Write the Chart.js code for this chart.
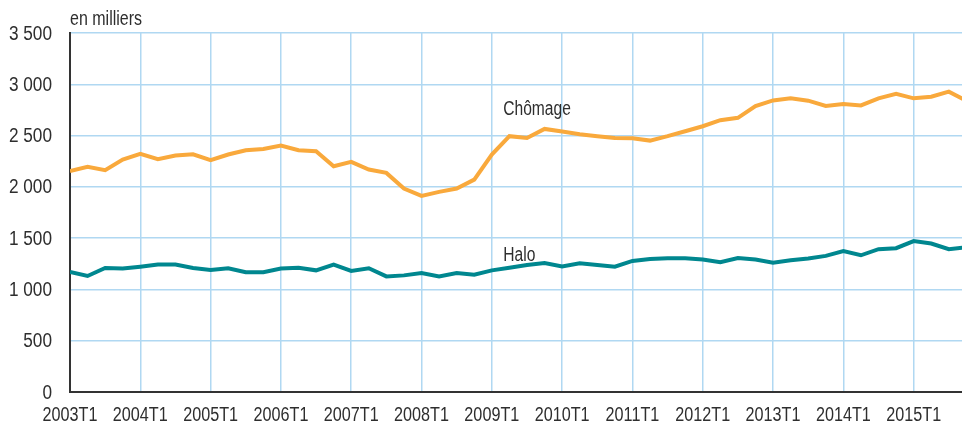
<!DOCTYPE html>
<html>
<head>
<meta charset="utf-8">
<script src="https://cdn.jsdelivr.net/npm/chart.js@4/dist/chart.umd.min.js"></script>
<style>
    html, body { margin: 0; padding: 0; background: #fff; }
    #wrap { width: 962px; height: 423px; }
</style>
</head>
<body>
<div id="wrap"><canvas id="chart" width="962" height="423"></canvas></div>
<script>
// quarterly data, 2003T1 .. 2015T4 (en milliers)
const quarters = [];
for (let y = 2003; y <= 2015; y++) {
    for (let q = 1; q <= 4; q++) quarters.push(y + 'T' + q);
}

const chomage = [
    2153, 2195, 2162, 2266, 2321, 2269, 2305, 2318,
    2260, 2315, 2357, 2370, 2403, 2357, 2347, 2201,
    2243, 2169, 2136, 1984, 1912, 1951, 1984, 2071,
    2315, 2494, 2477, 2565, 2539, 2513, 2494, 2477,
    2474, 2451, 2494, 2542, 2591, 2650, 2673, 2788,
    2843, 2863, 2840, 2788, 2807, 2794, 2863, 2908,
    2863, 2879, 2928, 2840
];

const halo = [
    1170, 1131, 1209, 1203, 1222, 1242, 1242, 1209,
    1190, 1206, 1167, 1167, 1203, 1212, 1186, 1242,
    1180, 1206, 1127, 1137, 1160, 1127, 1160, 1144,
    1186, 1212, 1239, 1258, 1225, 1255, 1239, 1222,
    1278, 1297, 1304, 1304, 1291, 1265, 1307, 1291,
    1261, 1284, 1301, 1327, 1373, 1333, 1392, 1402,
    1471, 1448, 1392, 1410
];

const yTicks = [0, 500, 1000, 1500, 2000, 2500, 3000, 3500];
const xTickIdx = [0, 4, 8, 12, 16, 20, 24, 28, 32, 36, 40, 44, 48];

const FONT = "'Liberation Sans', Arial, sans-serif";
const TEXT = '#2e2e2e';
const ORANGE = '#f9a93c';
const TEAL = '#00878f';
const GRID = '#b0d8f2';

function fmt(v) {
    if (v < 1000) return String(v);
    const th = Math.floor(v / 1000);
    const rest = String(v % 1000).padStart(3, '0');
    return th + ' ' + rest;
}

// draws condensed text (no narrow font installed)
function narrowText(ctx, str, x, y, align, squeeze) {
    ctx.save();
    ctx.translate(x, y);
    ctx.scale(squeeze, 1);
    ctx.textAlign = align;
    ctx.fillText(str, 0, 0);
    ctx.restore();
}

// tick labels, series labels, unit text
const labelsPlugin = {
    id: 'labels',
    afterDraw(chart) {
        const { ctx, scales: { x, y }, chartArea } = chart;
        ctx.save();
        ctx.fillStyle = TEXT;
        ctx.font = '20px ' + FONT;
        ctx.textBaseline = 'alphabetic';

        narrowText(ctx, 'en milliers', chartArea.left, 25, 'left', 0.8);

        // x ticks
        xTickIdx.forEach(v => {
            narrowText(ctx, quarters[v], x.getPixelForValue(v), chartArea.bottom + 29, 'center', 0.81);
        });

        // series labels
        narrowText(ctx, 'Chômage', x.getPixelForValue(24.65), y.getPixelForValue(2703), 'left', 0.78);
        narrowText(ctx, 'Halo', x.getPixelForValue(24.65), y.getPixelForValue(1280), 'left', 0.78);

        // y ticks
        ctx.textBaseline = 'middle';
        yTicks.forEach(v => {
            narrowText(ctx, fmt(v), chartArea.left - 18, y.getPixelForValue(v) + 1, 'right', 0.86);
        });
        ctx.restore();
    }
};

const ctx = document.getElementById('chart').getContext('2d');
const chart = new Chart(ctx, {
    type: 'line',
    data: {
        datasets: [
            {
                label: 'Chômage',
                data: chomage.map((v, i) => ({ x: i, y: v })),
                borderColor: ORANGE,
                borderWidth: 4,
                pointRadius: 0,
                tension: 0,
                fill: false,
            },
            {
                label: 'Halo',
                data: halo.map((v, i) => ({ x: i, y: v })),
                borderColor: TEAL,
                borderWidth: 4,
                pointRadius: 0,
                tension: 0,
                fill: false,
            }
        ]
    },
    options: {
        responsive: false,
        animation: false,
        events: [],
        layout: { padding: { top: 33, right: 0, left: 0, bottom: 0 } },
        plugins: {
            legend: { display: false },
            tooltip: { enabled: false },
        },
        scales: {
            x: {
                type: 'linear',
                min: 0,
                max: 50.75,
                afterBuildTicks: (axis) => {
                    axis.ticks = xTickIdx.map(v => ({ value: v }));
                },
                afterFit: (axis) => { axis.height = 31; },
                ticks: { display: false },
                grid: { color: GRID, lineWidth: 1.5, drawTicks: false },
                border: { color: '#333333', width: 2 },
            },
            y: {
                min: 0,
                max: 3500,
                afterBuildTicks: (axis) => {
                    axis.ticks = yTicks.map(v => ({ value: v }));
                },
                afterFit: (axis) => { axis.width = 70; },
                ticks: { display: false },
                grid: { color: GRID, lineWidth: 1.5, drawTicks: false },
                border: { color: '#333333', width: 2 },
            }
        }
    },
    plugins: [labelsPlugin]
});
</script>
</body>
</html>
